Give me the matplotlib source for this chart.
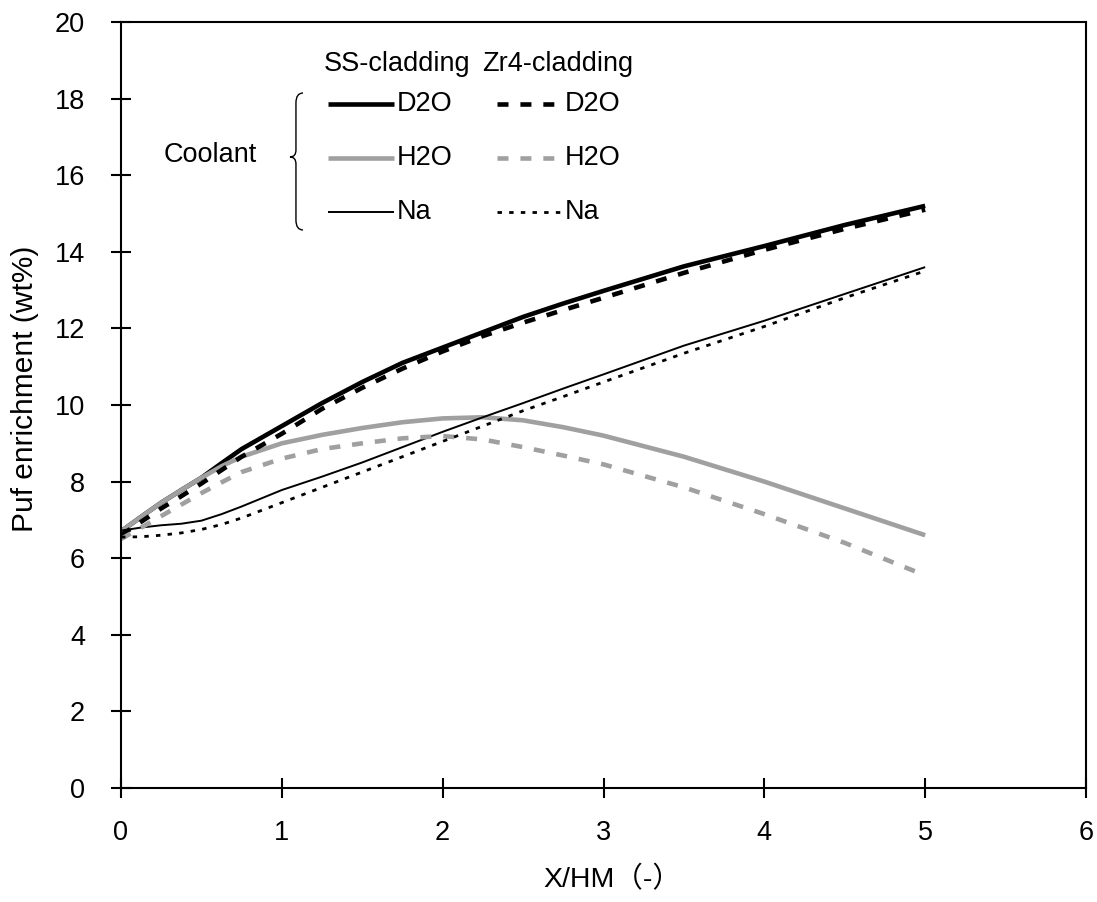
import matplotlib
matplotlib.use("Agg")
import matplotlib.pyplot as plt
from matplotlib.path import Path
from matplotlib.patches import PathPatch
from matplotlib.lines import Line2D

plt.rcParams['font.family'] = ['Liberation Sans', 'Noto Sans CJK JP', 'DejaVu Sans']

# X/HM values
x = [0, 0.125, 0.25, 0.375, 0.5, 0.625, 0.75, 1, 1.25, 1.5, 1.75, 2, 2.25, 2.5, 2.75, 3, 3.5, 4, 4.5, 5]

# SS-cladding
ss_d2o = [6.7, 7.08, 7.45, 7.78, 8.1, 8.48, 8.85, 9.45, 10.05, 10.6, 11.1, 11.5, 11.9, 12.3, 12.65, 12.98, 13.62, 14.15, 14.7, 15.2]
ss_h2o = [6.7, 7.08, 7.45, 7.78, 8.1, 8.4, 8.65, 9.0, 9.22, 9.4, 9.55, 9.65, 9.68, 9.6, 9.42, 9.2, 8.65, 8.0, 7.3, 6.6]
ss_na = [6.72, 6.8, 6.86, 6.9, 6.98, 7.15, 7.35, 7.78, 8.13, 8.5, 8.9, 9.3, 9.68, 10.05, 10.43, 10.8, 11.55, 12.2, 12.9, 13.6]

# Zr4-cladding
zr_d2o = [6.6, 6.95, 7.3, 7.62, 7.95, 8.3, 8.65, 9.25, 9.9, 10.45, 10.95, 11.4, 11.8, 12.15, 12.48, 12.8, 13.45, 14.05, 14.6, 15.1]
zr_h2o = [6.5, 6.8, 7.1, 7.4, 7.7, 7.98, 8.25, 8.6, 8.85, 9.0, 9.13, 9.19, 9.1, 8.9, 8.68, 8.45, 7.85, 7.15, 6.4, 5.55]
zr_na = [6.55, 6.56, 6.6, 6.66, 6.75, 6.88, 7.05, 7.45, 7.85, 8.25, 8.65, 9.05, 9.45, 9.85, 10.22, 10.6, 11.35, 12.05, 12.8, 13.5]

coolants = ["D2O", "H2O", "Na"]
gray = "#a0a0a0"

ss_style = [dict(color="black", lw=3.3), dict(color=gray, lw=3.3), dict(color="black", lw=1.4)]
zr_style = [dict(color="black", lw=3.3, dashes=(2.4, 2.6)),
            dict(color=gray, lw=3.3, dashes=(2.4, 2.6)),
            dict(color="black", lw=2.0, dashes=(1.6, 2.6))]

fig = plt.figure(figsize=(10.97, 9.02), dpi=100)
ax = fig.add_axes([121 / 1097, 114 / 902, 965 / 1097, 766 / 902])

for ys, st in zip([ss_d2o, ss_h2o, ss_na], ss_style):
    ax.plot(x, ys, solid_capstyle="butt", solid_joinstyle="round", **st)
for ys, st in zip([zr_d2o, zr_h2o, zr_na], zr_style):
    ax.plot(x, ys, dash_capstyle="butt", dash_joinstyle="round", **st)

ax.set_xlim(0, 6)
ax.set_ylim(0, 20)
ax.set_xticks(range(0, 7))
ax.set_yticks(range(0, 21, 2))
ax.tick_params(direction="inout", length=14, width=1.5, labelsize=19.5, color="black")
ax.tick_params(axis="y", pad=19)
ax.tick_params(axis="x", pad=16)
for s in ax.spines.values():
    s.set_linewidth(1.5)
    s.set_color("black")

# custom legend
T = ax.transAxes
ax.text(0.2104, 0.945, "SS-cladding", transform=T, fontsize=19.5, va="center", ha="left")
ax.text(0.374, 0.945, "Zr4-cladding", transform=T, fontsize=19.5, va="center", ha="left")
rows = [0.893, 0.8225, 0.752]
for name, yr, s1, s2 in zip(coolants, rows, ss_style, zr_style):
    ax.add_line(Line2D([0.2145, 0.2829], [yr, yr], transform=T, solid_capstyle="butt", **s1))
    ax.text(0.286, yr, name, transform=T, fontsize=19.5, va="center", ha="left")
    ax.add_line(Line2D([0.3896, 0.4545], [yr, yr], transform=T, dash_capstyle="butt", **s2))
    ax.text(0.460, yr, name, transform=T, fontsize=19.5, va="center", ha="left")
ax.text(0.0446, 0.826, "Coolant", transform=T, fontsize=19.5, va="center", ha="left")

verts = [(0.1886, 0.9073), (0.1813, 0.9073), (0.1813, 0.8943),
         (0.1813, 0.8329),
         (0.1813, 0.8238), (0.1751, 0.8238),
         (0.1813, 0.8238), (0.1813, 0.8146),
         (0.1813, 0.7415),
         (0.1813, 0.7285), (0.1886, 0.7285)]
codes = [Path.MOVETO, Path.CURVE3, Path.CURVE3, Path.LINETO,
         Path.CURVE3, Path.CURVE3, Path.CURVE3, Path.CURVE3,
         Path.LINETO, Path.CURVE3, Path.CURVE3]
ax.add_patch(PathPatch(Path(verts, codes), transform=T, fill=False, lw=1.0, color="black"))

fig.text(25 / 1097, (902 - 389) / 902, "Puf enrichment (wt%)", rotation=90,
         ha="center", va="center", fontsize=21.5)
fig.text(612 / 1097, (902 - 880) / 902, "X/HM（-）", ha="center", va="center", fontsize=20.5)

fig.savefig("out.png", dpi=100)
